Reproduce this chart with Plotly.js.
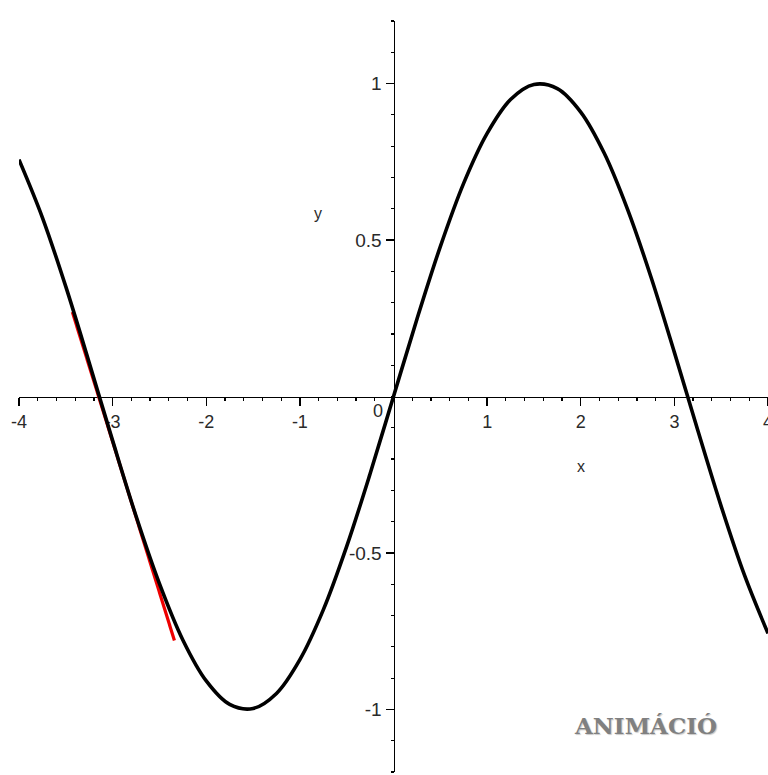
<!DOCTYPE html>
<html>
<head>
<meta charset="utf-8">
<script src="https://cdn.plot.ly/plotly-3.0.1.min.js"></script>
<style>html,body{margin:0;padding:0;background:#fff;}#chart{width:768px;height:775px;}</style>
</head>
<body>
<div id="chart"></div>
<script>
// curve y = sin(x), values at 0.25 steps
const curveX = [-4,-3.75,-3.5,-3.25,-3,-2.75,-2.5,-2.25,-2,-1.75,-1.5,-1.25,-1,-0.75,-0.5,-0.25,0,0.25,0.5,0.75,1,1.25,1.5,1.75,2,2.25,2.5,2.75,3,3.25,3.5,3.75,4];
const curveY = [0.757,0.572,0.351,0.108,-0.141,-0.382,-0.598,-0.778,-0.909,-0.984,-0.997,-0.949,-0.841,-0.682,-0.479,-0.247,0,0.247,0.479,0.682,0.841,0.949,0.997,0.984,0.909,0.778,0.598,0.382,0.141,-0.108,-0.351,-0.572,-0.757];
// red tangent segment endpoints
const tangentX = [-3.43, -2.34];
const tangentY = [0.27, -0.78];
// tick labels
const xTickVals = [-4,-3,-2,-1,1,2,3,4];
const xTickText = ['-4','-3','-2','-1','1','2','3','4'];
const yTickVals = [-1,-0.5,0.5,1];
const yTickText = ['-1','-0.5','0.5','1'];

const xTickFont = {family: '"Liberation Sans", Arial, sans-serif', size: 18, color: '#2a2a2a'};
const yTickFont = {family: '"Liberation Sans", Arial, sans-serif', size: 19, color: '#2a2a2a'};
const labelFont = {family: '"Liberation Sans", Arial, sans-serif', size: 16, color: '#2a2a2a'};

const traces = [
  {x: tangentX, y: tangentY, mode: 'lines', line: {color: '#ee0000', width: 3.2}, hoverinfo: 'skip'},
  {x: curveX, y: curveY, mode: 'lines', line: {color: '#000', width: 3.6, shape: 'spline', smoothing: 1}, hoverinfo: 'skip'}
];

const layout = {
  width: 768, height: 775,
  margin: {l: 0, r: 0, t: 21, b: 3},
  paper_bgcolor: '#fff', plot_bgcolor: '#fff',
  showlegend: false,
  xaxis: {
    domain: [19/768, 1], range: [-4, 4],
    anchor: 'free', position: 0.5,
    showgrid: false, zeroline: false,
    showline: true, linecolor: '#000', linewidth: 1.5,
    ticks: 'outside', ticklen: 8, tickwidth: 1.3, tickcolor: '#000',
    tickmode: 'array', tickvals: xTickVals, ticktext: xTickText,
    tickfont: xTickFont, layer: 'below traces', ticklabeloverflow: 'allow',
    minor: {ticks: 'outside', ticklen: 3, tickwidth: 1.2, tickcolor: '#000', dtick: 0.2, tick0: 0, showgrid: false}
  },
  yaxis: {
    domain: [0, 1], range: [-1.2, 1.2],
    anchor: 'free', position: (19 + 374.5) / 768,
    showgrid: false, zeroline: false,
    showline: true, linecolor: '#000', linewidth: 1.5,
    ticks: 'outside', ticklen: 8, tickwidth: 1.3, tickcolor: '#000',
    tickmode: 'array', tickvals: yTickVals, ticktext: yTickText,
    tickfont: yTickFont, layer: 'below traces',
    minor: {ticks: 'outside', ticklen: 3, tickwidth: 1.2, tickcolor: '#000', dtick: 0.1, tick0: 0, showgrid: false}
  },
  annotations: [
    {x: 0, y: 0, xref: 'x', yref: 'y', text: '0', showarrow: false, xshift: -16, yshift: -14, font: xTickFont},
    {x: -0.806, y: 0.586, xref: 'x', yref: 'y', text: 'y', showarrow: false, font: labelFont},
    {x: 2.004, y: -0.225, xref: 'x', yref: 'y', text: 'x', showarrow: false, font: labelFont},
    {x: 2.688, y: -1.05, xref: 'x', yref: 'y', text: 'ANIMÁCIÓ', showarrow: false,
     font: {family: '"DejaVu Serif", "Liberation Serif", serif', size: 23, color: '#808080', weight: 700, shadow: '1px 1px 1px #c8c8c8'}}
  ]
};

Plotly.newPlot('chart', traces, layout, {staticPlot: true, displayModeBar: false});
</script>
</body>
</html>
